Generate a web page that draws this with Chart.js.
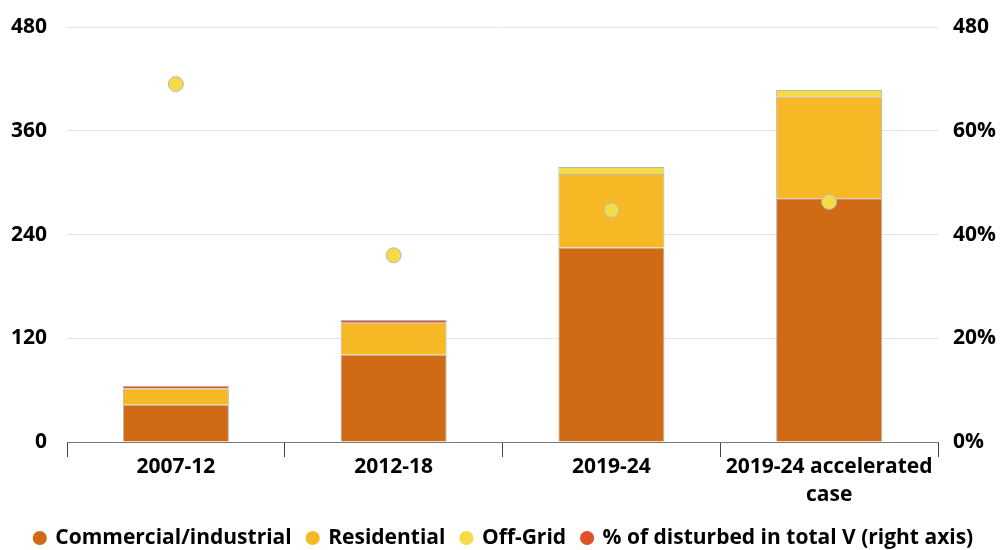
<!DOCTYPE html>
<html><head><meta charset="utf-8">
<script src="https://cdn.jsdelivr.net/npm/chart.js@4/dist/chart.umd.min.js"></script>
<style>html,body{margin:0;padding:0;background:#fff}#wrap{width:1008px;height:550px}</style>
</head><body><div id="wrap"><canvas id="c"></canvas></div>
<script>
const categories = [["2007-12"], ["2012-18"], ["2019-24"], ["2019-24 accelerated", "case"]];
const commercial = [43, 101, 225, 282];
const residential = [19, 37, 85, 118];
const offGrid = [3, 3, 8, 7];
const disturbedPct = [69, 36, 44.7, 46.3];
const leftTicks = [0, 120, 240, 360, 480];
const rightTicks = [0, 20, 40, 60, 80];

const C_COM = '#d06a15', C_RES = '#f7b825', C_OFF = '#f3dc45', C_RED = '#e0532a';
const font = {family: '"Open Sans", Lato, sans-serif', weight: 'bold', size: 21};
const legendFont = {family: '"Open Sans", Lato, sans-serif', weight: 'bold', size: 21};
const xFont = {family: '"Open Sans", Lato, sans-serif', weight: 'bold', size: 21, lineHeight: 1.38};
const barOpts = {borderColor:'#b5b5b5', borderWidth:1, stack:'s', order:1, categoryPercentage:1, barPercentage:0.487};
const LEG_PAD = 16;

const legendShift = {id:'legendShift', afterLayout(chart){ const l = chart.legend; const target = 538 - LEG_PAD - 10.5; const d = target - l.top; l.top += d; l.bottom += d; }};

new Chart(document.getElementById('c'), {
  plugins:[legendShift],
  data: {
    labels: categories,
    datasets: [
      {type:'line', label:'% of disturbed in total V (right axis)', data: disturbedPct, yAxisID:'y2',
       showLine:false, pointRadius:7.5, pointHoverRadius:7.5, pointBackgroundColor:C_OFF, pointBorderColor:'#b8b8b8',
       pointBorderWidth:1, backgroundColor:C_RED, borderColor:C_RED, order:0},
      Object.assign({type:'bar', label:'Commercial/industrial', data: commercial, backgroundColor:C_COM}, barOpts),
      Object.assign({type:'bar', label:'Residential', data: residential, backgroundColor:C_RES}, barOpts),
      Object.assign({type:'bar', label:'Off-Grid', data: offGrid, backgroundColor:[C_RED, C_RED, C_OFF, C_OFF]}, barOpts)
    ]
  },
  options: {
    responsive:true, maintainAspectRatio:false, animation:false,
    layout:{padding:{top:27, left:0, right:0, bottom:-2}},
    plugins:{
      tooltip:{enabled:false},
      legend:{position:'bottom', labels:{
        font:legendFont, color:'#000', usePointStyle:true, pointStyle:'circle', boxWidth:10, boxHeight:10, padding:LEG_PAD,
        generateLabels:(chart)=>{
          const order=[1,2,3,0]; const cols=[C_COM,C_RES,C_OFF,C_RED];
          return order.map((di,i)=>({text:chart.data.datasets[di].label, fillStyle:cols[i], strokeStyle:cols[i], lineWidth:0, pointStyle:'circle', datasetIndex:di, hidden:false, fontColor:'#000'}));
        }
      }}
    },
    scales:{
      x:{stacked:true, offset:true,
         grid:{offset:true, drawOnChartArea:false, drawTicks:true, tickLength:15, color:'#444', lineWidth:1},
         border:{color:'#777', width:1},
         ticks:{font:xFont, color:'#000', padding:-5, maxRotation:0}},
      y:{stacked:true, min:0, max:480, position:'left',
         afterBuildTicks:(a)=>{a.ticks=leftTicks.map(v=>({value:v}));},
         afterFit:(s)=>{s.width=67; s.paddingTop=0; s.paddingBottom=0;},
         grid:{color:'#e4e4e4', drawTicks:false}, border:{display:false},
         ticks:{font:font, color:'#000', padding:20}},
      y2:{min:0, max:80, position:'right',
         afterBuildTicks:(a)=>{a.ticks=rightTicks.map(v=>({value:v}));},
         afterFit:(s)=>{s.width=70; s.paddingTop=0; s.paddingBottom=0;},
         grid:{display:false}, border:{display:false},
         ticks:{font:font, color:'#000', padding:7, callback:(v)=> v===80 ? '480' : v+'%'}}
    }
  }
});
</script></body></html>
